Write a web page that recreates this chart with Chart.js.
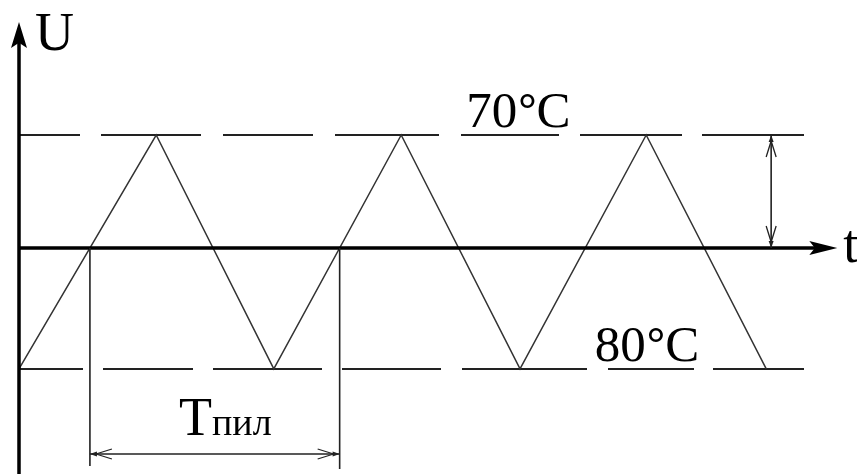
<!DOCTYPE html>
<html>
<head>
<meta charset="utf-8">
<script src="https://cdn.jsdelivr.net/npm/chart.js@4"></script>
<style>
  html, body { margin: 0; padding: 0; background: #fff; }
  #wrap { width: 857px; height: 474px; }
</style>
</head>
<body>
<div id="wrap"><canvas id="saw" width="857" height="474"></canvas></div>
<script>
// triangle (saw) voltage: vertices in time units, amplitude in relative U
const waveT = [0, 5.6, 10.4, 15.6, 20.45, 25.6, 30.5];
const waveU = [-1.07, 1, -1.07, 1, -1.07, 1, -1.07];

// comparator thresholds
const levelU = [1, -1.07];
const levelNames = ['70', '80'];
const levelLabelT = [18.25, 23.5];
const levelEndT = 32.05;

// axes
const axisNames = ['U', 't'];
const axisEndT = 33.4;
const axisEndU = 2.0;
const ampArrowT = 30.7;
const periodName = ['T', 'пил'];

const serif = '"Liberation Serif", "DejaVu Serif", serif';

function arrowHead(ctx, tx, ty, dx, dy, len, half) {
  const px = -dy, py = dx;
  ctx.beginPath();
  ctx.moveTo(tx, ty);
  ctx.lineTo(tx - dx * len + px * half, ty - dy * len + py * half);
  ctx.lineTo(tx - dx * len * 0.8, ty - dy * len * 0.8);
  ctx.lineTo(tx - dx * len - px * half, ty - dy * len - py * half);
  ctx.closePath();
  ctx.fill();
}

// thin dimension line with open arrowheads at both ends
function dimArrow(ctx, x1, y1, x2, y2) {
  const L = Math.hypot(x2 - x1, y2 - y1);
  const dx = (x2 - x1) / L, dy = (y2 - y1) / L;
  const px = -dy, py = dx;
  ctx.lineWidth = 1.6;
  ctx.beginPath();
  ctx.moveTo(x1, y1);
  ctx.lineTo(x2, y2);
  ctx.stroke();
  [[x1, y1, dx, dy], [x2, y2, -dx, -dy]].forEach(([tx, ty, ux, uy]) => {
    ctx.beginPath();
    ctx.moveTo(tx, ty);
    ctx.lineTo(tx + ux * 7 + px * 2.5, ty + uy * 7 + py * 2.5);
    ctx.lineTo(tx + ux * 7 - px * 2.5, ty + uy * 7 - py * 2.5);
    ctx.closePath();
    ctx.fill();
    ctx.lineWidth = 1.3;
    ctx.beginPath();
    ctx.moveTo(tx + ux * 6, ty + uy * 6);
    ctx.lineTo(tx + ux * 22 + px * 5, ty + uy * 22 + py * 5);
    ctx.moveTo(tx + ux * 6, ty + uy * 6);
    ctx.lineTo(tx + ux * 22 - px * 5, ty + uy * 22 - py * 5);
    ctx.stroke();
    ctx.lineWidth = 1.6;
  });
}

// "70°C" with a heavier degree ring, like the drawing
function degreeLabel(ctx, value, x, y) {
  ctx.font = '51px ' + serif;
  ctx.fillText(value, x, y);
  let w = ctx.measureText(value).width;
  ctx.font = 'bold 46px ' + serif;
  ctx.fillText('°', x + w + 1, y - 2);
  w += ctx.measureText('°').width + 1;
  ctx.font = '51px ' + serif;
  ctx.fillText('C', x + w, y);
}

const sketchPlugin = {
  id: 'sketch',
  beforeDraw(chart) {
    const ctx = chart.ctx;
    ctx.save();
    ctx.fillStyle = '#fff';
    ctx.fillRect(0, 0, chart.width, chart.height);
    ctx.restore();
  },
  afterDatasetsDraw(chart) {
    const ctx = chart.ctx;
    const xs = chart.scales.x, ys = chart.scales.y;
    const x0 = xs.getPixelForValue(0), y0 = ys.getPixelForValue(0);
    const xEnd = xs.getPixelForValue(axisEndT), yEnd = ys.getPixelForValue(axisEndU);
    ctx.save();
    ctx.strokeStyle = '#000';
    ctx.fillStyle = '#000';

    // axes
    ctx.lineWidth = 3.5;
    ctx.beginPath();
    ctx.moveTo(x0, chart.height);
    ctx.lineTo(x0, yEnd + 18);
    ctx.moveTo(x0, y0);
    ctx.lineTo(xEnd - 18, y0);
    ctx.stroke();
    arrowHead(ctx, x0, yEnd, 0, -1, 26, 8);
    arrowHead(ctx, xEnd, y0, 1, 0, 28, 7);

    // period: rising zero crossings of the wave
    const cross = [];
    for (let i = 0; i < waveT.length - 1; i++) {
      if (waveU[i] < 0 && waveU[i + 1] > 0) {
        const f = -waveU[i] / (waveU[i + 1] - waveU[i]);
        cross.push(waveT[i] + f * (waveT[i + 1] - waveT[i]));
      }
    }
    const c1 = xs.getPixelForValue(cross[0]), c2 = xs.getPixelForValue(cross[1]);
    const yLow = ys.getPixelForValue(-1.93), yDim = ys.getPixelForValue(-1.823);
    ctx.strokeStyle = '#222';
    ctx.fillStyle = '#222';
    ctx.lineWidth = 1.6;
    ctx.beginPath();
    ctx.moveTo(c1, y0);
    ctx.lineTo(c1, yLow);
    ctx.moveTo(c2, y0);
    ctx.lineTo(c2, yLow + 3);
    ctx.stroke();
    dimArrow(ctx, c1, yDim, c2, yDim);

    // amplitude arrow between upper threshold and t axis
    const xa = xs.getPixelForValue(ampArrowT);
    dimArrow(ctx, xa, ys.getPixelForValue(levelU[0]), xa, y0);

    // texts
    ctx.fillStyle = '#000';
    ctx.textBaseline = 'alphabetic';
    ctx.textAlign = 'left';
    ctx.font = '54px ' + serif;
    ctx.fillText(axisNames[0], x0 + 16, yEnd + 28);
    ctx.fillText(axisNames[1], xEnd + 6, y0 + 14);
    ctx.fillText(periodName[0], 179, yDim - 19);
    ctx.font = '38px ' + serif;
    ctx.fillText(periodName[1], 212, yDim - 19);
    levelNames.forEach((name, i) => {
      degreeLabel(ctx, name, xs.getPixelForValue(levelLabelT[i]), ys.getPixelForValue(levelU[i]) - 8);
    });
    ctx.restore();
  }
};

const pxPerT = 24.5, originPx = 19;
const pxPerU = 113, axisPx = 248;

new Chart(document.getElementById('saw'), {
  type: 'line',
  data: {
    datasets: [
      {
        label: 'U',
        data: waveT.map((t, i) => ({ x: t, y: waveU[i] })),
        borderColor: '#333',
        borderWidth: 1.5,
        pointRadius: 0,
        tension: 0
      },
      {
        label: levelNames[0] + '°C',
        data: [{ x: 0, y: levelU[0] }, { x: levelEndT, y: levelU[0] }],
        borderColor: '#222',
        borderWidth: 2,
        // hand-drawn dash lengths of the upper threshold
        borderDash: [61, 21, 100, 22, 90, 22, 104, 22, 98, 21, 102, 20, 102, 30],
        pointRadius: 0
      },
      {
        label: levelNames[1] + '°C',
        data: [{ x: 0, y: levelU[1] }, { x: levelEndT, y: levelU[1] }],
        borderColor: '#222',
        borderWidth: 2,
        borderDash: [64, 20, 90, 20, 109, 20, 99, 21, 125, 21, 86, 19, 91, 30],
        pointRadius: 0
      }
    ]
  },
  options: {
    responsive: false,
    animation: false,
    layout: { padding: 0 },
    plugins: { legend: { display: false }, tooltip: { enabled: false } },
    scales: {
      x: {
        type: 'linear',
        display: false,
        min: -originPx / pxPerT,
        max: (857 - originPx) / pxPerT
      },
      y: {
        type: 'linear',
        display: false,
        min: (axisPx - 474) / pxPerU,
        max: axisPx / pxPerU
      }
    }
  },
  plugins: [sketchPlugin]
});
</script>
</body>
</html>
